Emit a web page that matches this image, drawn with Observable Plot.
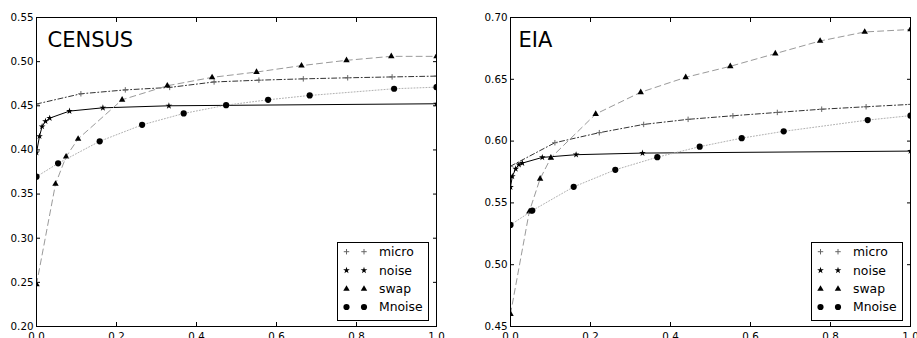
<!DOCTYPE html>
<html>
<head>
<meta charset="utf-8">
<script src="https://cdn.jsdelivr.net/npm/d3@7"></script>
<script src="https://cdn.jsdelivr.net/npm/@observablehq/plot@0.6"></script>
<style>
  html, body { margin: 0; padding: 0; background: #fff; }
  #wrap { position: relative; width: 917px; height: 338px; display: flex; overflow: hidden; font-family: "DejaVu Sans", sans-serif; }
  #wrap svg { overflow: visible; display: block; }
  .legend { position: absolute; }
</style>
</head>
<body>
<div id="wrap"></div>
<script>
// ---------- data ----------
const seriesNames = ["micro", "noise", "swap", "Mnoise"];
const xTicks = [0, 0.2, 0.4, 0.6, 0.8, 1.0];
const censusYTicks = [0.20, 0.25, 0.30, 0.35, 0.40, 0.45, 0.50, 0.55];
const eiaYTicks = [0.45, 0.50, 0.55, 0.60, 0.65, 0.70];

// CENSUS
const censusMicroX = [0, 0.111, 0.222, 0.333, 0.444, 0.556, 0.667, 0.778, 0.889, 1.0];
const censusMicroY = [0.452, 0.4636, 0.468, 0.4708, 0.477, 0.479, 0.4805, 0.4817, 0.4827, 0.4836];
const censusNoiseX = [0, 0.0075, 0.014, 0.0225, 0.033, 0.0825, 0.166, 0.331, 1.0];
const censusNoiseY = [0.397, 0.4155, 0.4265, 0.4325, 0.436, 0.444, 0.4477, 0.450, 0.4523];
const censusSwapX = [0, 0.0475, 0.074, 0.104, 0.214, 0.327, 0.439, 0.55, 0.6625, 0.775, 0.887, 1.0];
const censusSwapY = [0.2477, 0.3614, 0.3924, 0.4125, 0.4568, 0.4727, 0.4822, 0.4882, 0.4955, 0.5015, 0.506, 0.506];
const censusMnoiseX = [0, 0.054, 0.158, 0.264, 0.368, 0.474, 0.579, 0.683, 0.894, 1.0];
const censusMnoiseY = [0.3697, 0.3848, 0.4098, 0.4284, 0.4413, 0.4507, 0.4568, 0.4617, 0.4693, 0.4711];

// EIA
const eiaMicroX = [0, 0.111, 0.222, 0.333, 0.444, 0.556, 0.667, 0.778, 0.889, 1.0];
const eiaMicroY = [0.5797, 0.5987, 0.6068, 0.6135, 0.6176, 0.6205, 0.6232, 0.6258, 0.6278, 0.6297];
const eiaNoiseX = [0, 0.0045, 0.013, 0.021, 0.0295, 0.0795, 0.164, 0.33, 1.0];
const eiaNoiseY = [0.5627, 0.5714, 0.5776, 0.5809, 0.5822, 0.5868, 0.589, 0.5903, 0.5919];
const eiaSwapX = [0, 0.047, 0.074, 0.101, 0.213, 0.3255, 0.438, 0.5495, 0.662, 0.774, 0.8855, 1.0];
const eiaSwapY = [0.4601, 0.543, 0.5695, 0.5865, 0.6219, 0.6395, 0.6516, 0.6605, 0.6708, 0.681, 0.6883, 0.6903];
const eiaMnoiseX = [0, 0.0545, 0.158, 0.262, 0.367, 0.473, 0.578, 0.683, 0.893, 1.0];
const eiaMnoiseY = [0.5322, 0.5438, 0.563, 0.5768, 0.587, 0.5955, 0.6024, 0.6079, 0.617, 0.6206];

// ---------- styles ----------
const styles = {
  micro:  {stroke: "#333", dash: "5,2.5,1,2.5", symbol: "plus", r: 1.9, fill: "none", mstroke: "#666"},
  noise:  {stroke: "#000", dash: null, symbol: "star", r: 2.1, fill: "#000", mstroke: "none"},
  swap:   {stroke: "#9a9a9a", dash: "6,4", symbol: "triangle", r: 2.4, fill: "#000", mstroke: "none"},
  Mnoise: {stroke: "#b0b0b0", dash: "1,2", symbol: "circle", r: 3.1, fill: "#000", mstroke: "none"}
};

function rows(xs, ys) { return xs.map((x, i) => ({x, y: ys[i]})); }

function panel({title, titleDx, yDomain, yTicks, data, width, marginLeft, marginRight}) {
  const marks = [];
  for (const name of seriesNames) {
    const s = styles[name];
    const d = data[name];
    marks.push(Plot.line(d, {x: "x", y: "y", stroke: s.stroke, strokeWidth: 1, strokeDasharray: s.dash, clip: true}));
    marks.push(Plot.dot(d, {x: "x", y: "y", symbol: s.symbol, r: s.r, fill: s.fill, stroke: s.mstroke, strokeWidth: 1, clip: true}));
  }
  const empty = () => "";
  return Plot.plot({
    width, height: 338,
    marginTop: 17, marginBottom: 12, marginLeft, marginRight,
    style: {fontFamily: "DejaVu Sans", fontSize: "10.3px", color: "#000", background: "#fff", overflow: "visible"},
    x: {domain: [0, 1]},
    y: {domain: yDomain},
    marks: [
      Plot.axisX({anchor: "bottom", ticks: xTicks, tickSize: 4, dy: -4, tickFormat: empty, label: null}),
      Plot.axisX({anchor: "top", ticks: xTicks, tickSize: 4, dy: 4, tickFormat: empty, label: null}),
      Plot.axisX({anchor: "bottom", ticks: xTicks, tickSize: 0, tickPadding: 6, tickFormat: d3.format(".1f"), label: null}),
      Plot.axisY({anchor: "left", ticks: yTicks, tickSize: 4, dx: 4, tickFormat: empty, label: null}),
      Plot.axisY({anchor: "right", ticks: yTicks, tickSize: 4, dx: -4, tickFormat: empty, label: null}),
      Plot.axisY({anchor: "left", ticks: yTicks, tickSize: 0, tickPadding: 3, tickFormat: d3.format(".2f"), label: null}),
      ...marks,
      Plot.frame({stroke: "#000", strokeWidth: 1}),
      Plot.text([title], {frameAnchor: "top-left", textAnchor: "start", lineAnchor: "bottom", dx: titleDx, dy: 29, fontSize: 21, fill: "#000"})
    ]
  });
}

function legend(left, top) {
  const w = 92, h = 79, rowY = [9.7, 28.3, 47, 65];
  const svg = d3.create("svg").attr("class", "legend").attr("width", w).attr("height", h)
    .style("left", left + "px").style("top", top + "px");
  svg.append("rect").attr("x", 0.5).attr("y", 0.5).attr("width", w - 1).attr("height", h - 1)
    .attr("fill", "#fff").attr("stroke", "#000").attr("stroke-width", 1);
  const symMap = {plus: d3.symbolPlus, star: d3.symbolStar, triangle: d3.symbolTriangle, circle: d3.symbolCircle};
  seriesNames.forEach((name, i) => {
    const s = styles[name];
    const path = d3.symbol(symMap[s.symbol], Math.PI * s.r * s.r)();
    for (const mx of [9.5, 27]) {
      svg.append("path").attr("d", path).attr("transform", `translate(${mx},${rowY[i]})`)
        .attr("fill", s.fill).attr("stroke", s.mstroke).attr("stroke-width", 1);
    }
    svg.append("text").attr("x", 42).attr("y", rowY[i]).attr("dy", "0.36em")
      .attr("font-family", "DejaVu Sans").attr("font-size", "12.4px").attr("fill", "#000").text(name);
  });
  return svg.node();
}

const wrap = document.getElementById("wrap");
wrap.appendChild(panel({
  title: "CENSUS", titleDx: 11, yDomain: [0.20, 0.55], yTicks: censusYTicks,
  data: {micro: rows(censusMicroX, censusMicroY), noise: rows(censusNoiseX, censusNoiseY),
         swap: rows(censusSwapX, censusSwapY), Mnoise: rows(censusMnoiseX, censusMnoiseY)},
  width: 470, marginLeft: 36, marginRight: 34
}));
wrap.appendChild(panel({
  title: "EIA", titleDx: 8, yDomain: [0.45, 0.70], yTicks: eiaYTicks,
  data: {micro: rows(eiaMicroX, eiaMicroY), noise: rows(eiaNoiseX, eiaNoiseY),
         swap: rows(eiaSwapX, eiaSwapY), Mnoise: rows(eiaMnoiseX, eiaMnoiseY)},
  width: 447, marginLeft: 40, marginRight: 7
}));
wrap.appendChild(legend(337, 242));
wrap.appendChild(legend(811, 242));
</script>
</body>
</html>
